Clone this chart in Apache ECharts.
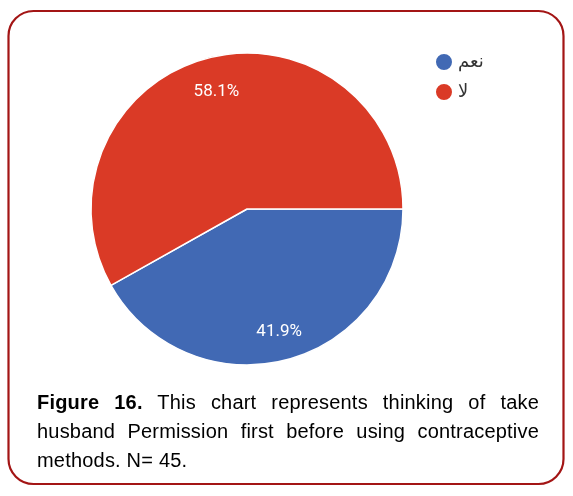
<!DOCTYPE html>
<html>
<head>
<meta charset="utf-8">
<script src="https://cdn.jsdelivr.net/npm/echarts@6/dist/echarts.min.js"></script>
<style>
  html, body { margin: 0; padding: 0; background: #fff; }
  #wrap { position: relative; width: 573px; height: 496px; }
  #chart { position: absolute; left: 0; top: 0; width: 573px; height: 496px; }
  #caption {
    position: absolute; left: 37px; top: 388px; width: 502px;
    font-family: "Liberation Sans", Arial, sans-serif; font-size: 20px;
    line-height: 29px; color: #000; text-align: justify; letter-spacing: 0.2px;
  }
</style>
</head>
<body>
<div id="wrap">
  <div id="chart"></div>
  <div id="caption"><b>Figure 16.</b> This chart represents thinking of take husband Permission first before using contraceptive methods. N= 45.</div>
</div>
<script>
const categories = ['نعم', 'لا'];
const values = [18, 25];
const colors = ['#4169b4', '#da3a26'];

const chart = echarts.init(document.getElementById('chart'));
const pieData = categories.map((c, i) => ({ name: c, value: values[i], itemStyle: { color: colors[i] } }));
// one label ring per slice so each label can sit at its own distance from the centre
function labelRing(showIndex, radius) {
  return {
    type: 'pie',
    center: [247, 209],
    radius: radius,
    startAngle: 0,
    clockwise: true,
    silent: true,
    percentPrecision: 1,
    itemStyle: { color: 'rgba(0,0,0,0)' },
    label: {
      show: true, position: 'inside', formatter: '{d}%',
      color: '#fff', fontSize: 17, fontFamily: 'Roboto'
    },
    labelLine: { show: false },
    data: categories.map((c, i) => ({ name: c, value: values[i], label: { show: i === showIndex } }))
  };
}

chart.setOption({
  animation: false,
  legend: {
    orient: 'vertical',
    left: 434, top: 52, padding: 0,
    icon: 'circle',
    itemWidth: 18, itemHeight: 18, itemGap: 10,
    textStyle: { fontSize: 18, color: '#333', fontFamily: 'DejaVu Sans' },
    data: categories.map((c, i) => ({ name: c, itemStyle: { color: colors[i] } }))
  },
  graphic: [{
    type: 'rect',
    shape: { x: 8.5, y: 11, width: 555, height: 473, r: 25 },
    style: { fill: 'none', stroke: '#a31515', lineWidth: 2.2 },
    silent: true
  }],
  series: [
    {
      type: 'pie',
      center: [247, 209],
      radius: [0, 156],
      startAngle: 0,
      clockwise: true,
      label: { show: false },
      labelLine: { show: false },
      itemStyle: { borderColor: '#fff', borderWidth: 1.5 },
      data: pieData
    },
    labelRing(0, [104, 144]),
    labelRing(1, [98, 138])
  ]
});
</script>
</body>
</html>
